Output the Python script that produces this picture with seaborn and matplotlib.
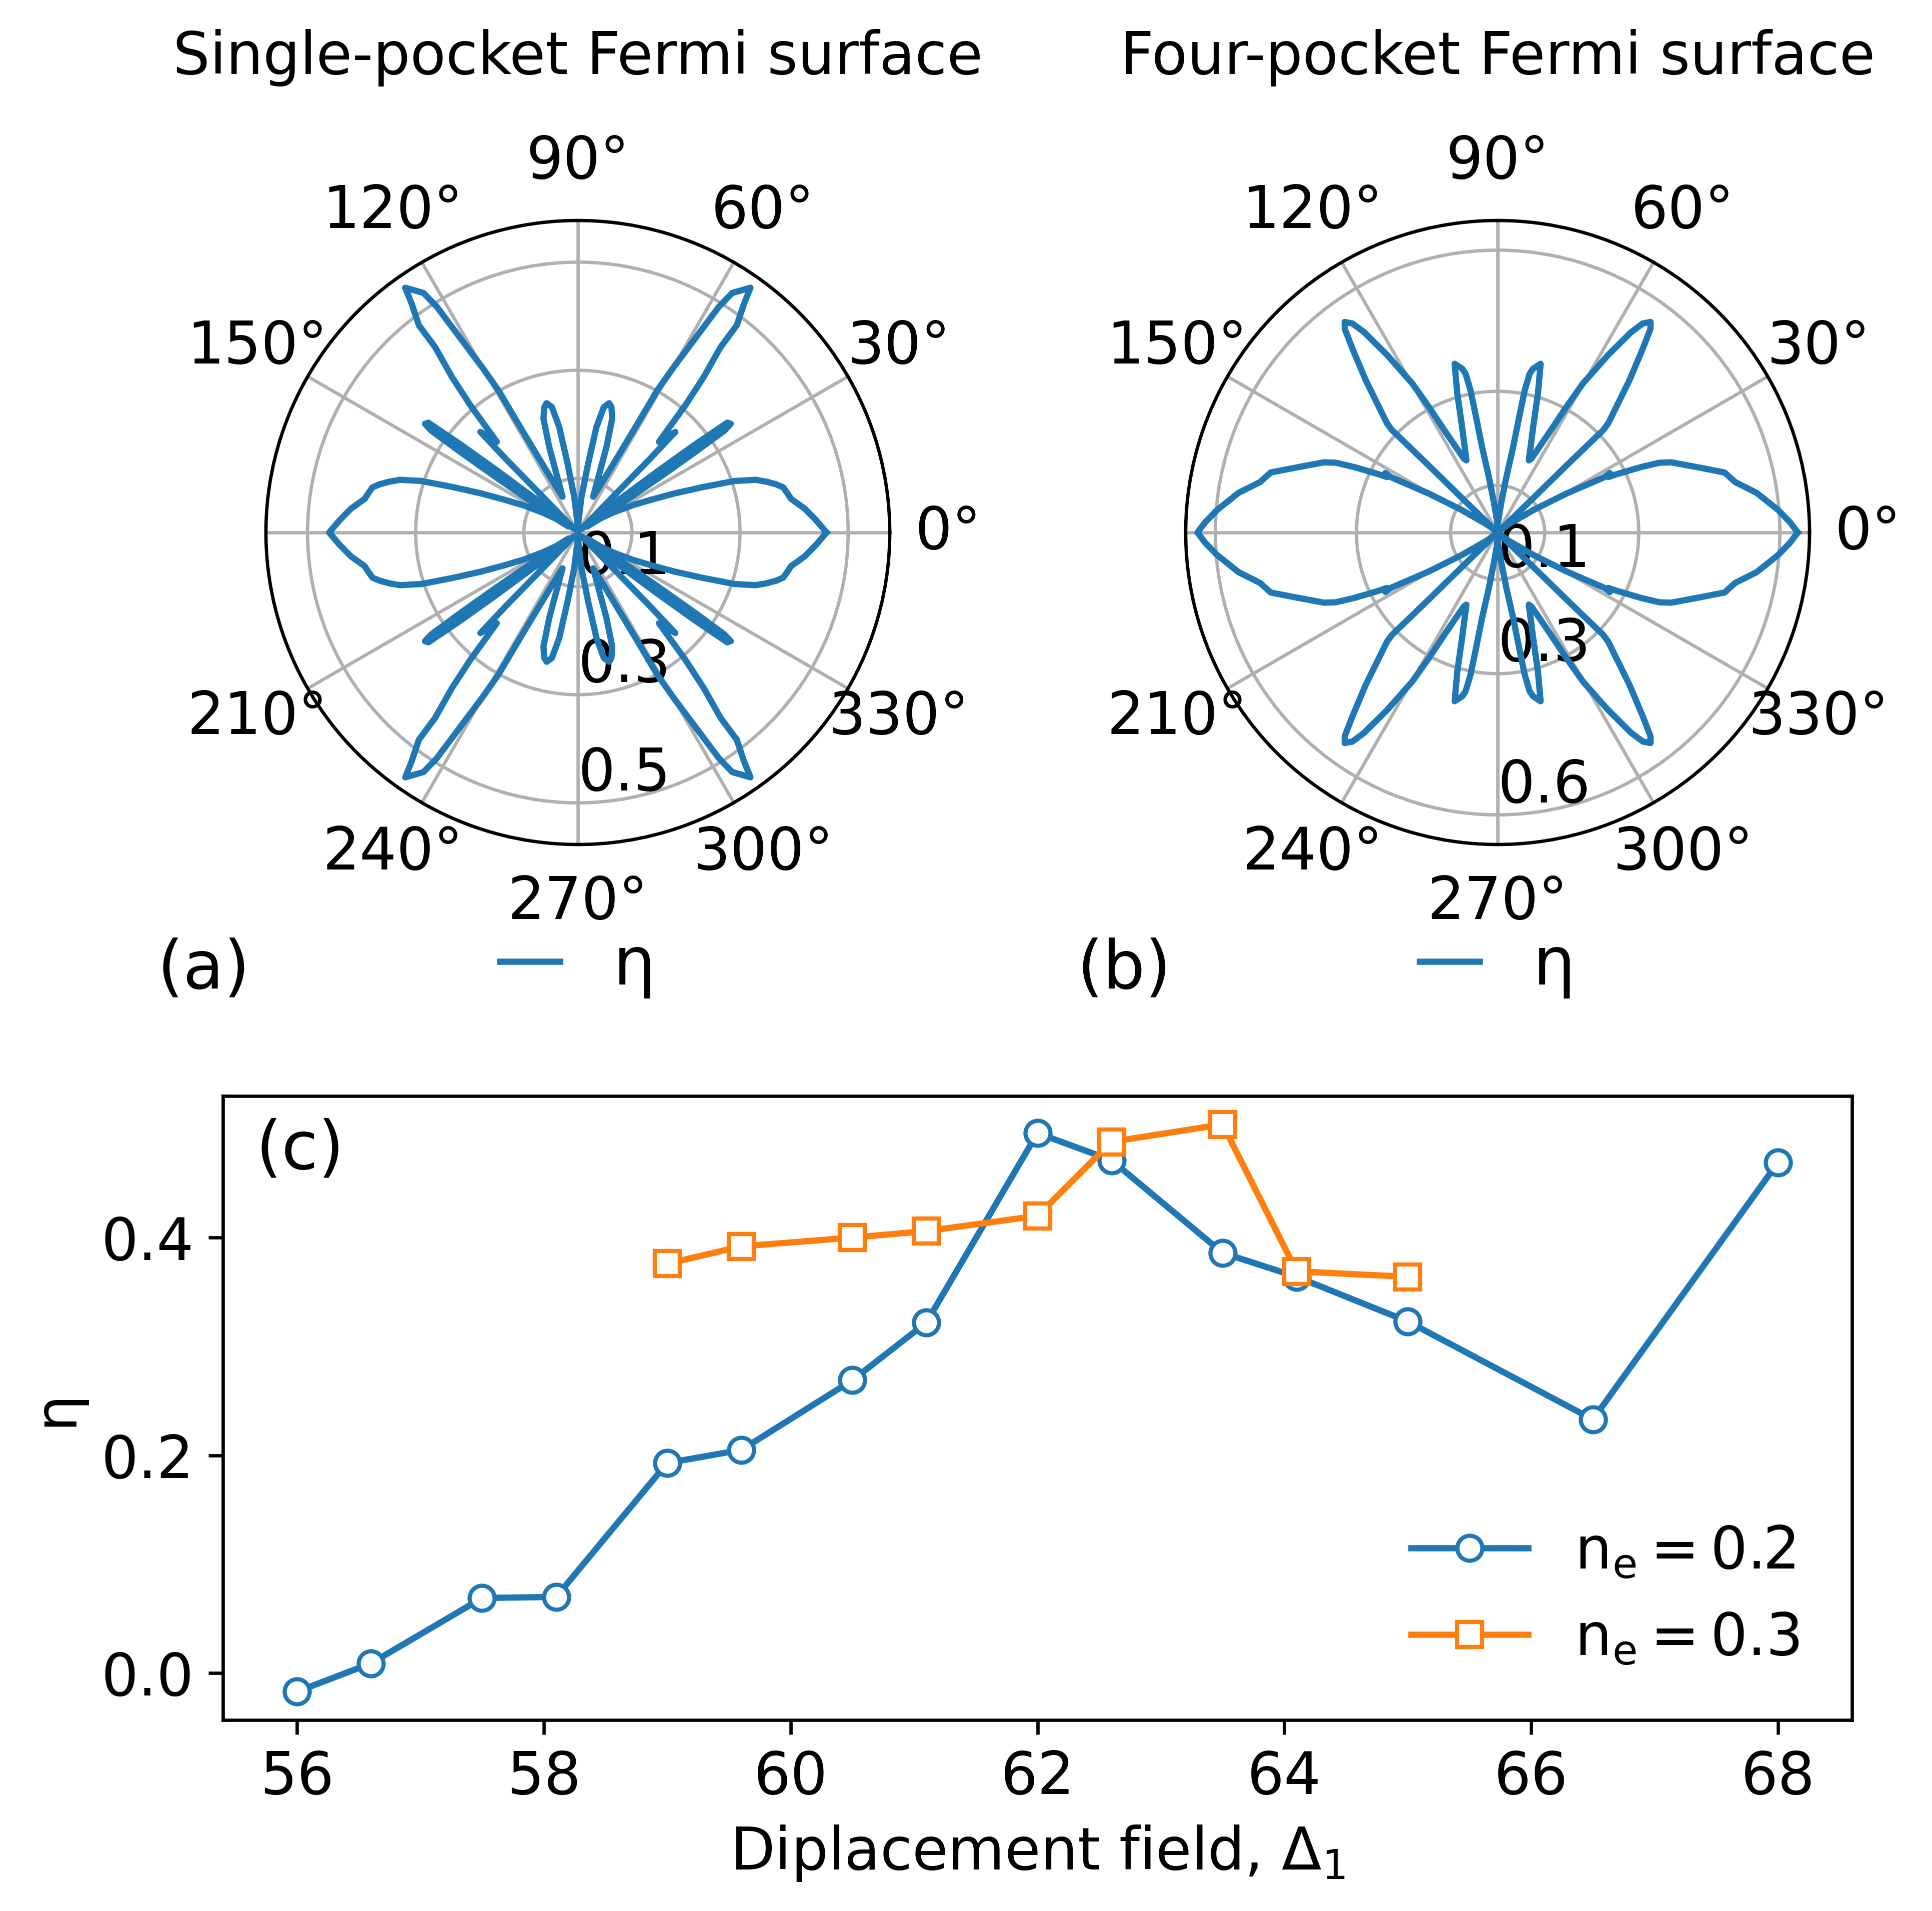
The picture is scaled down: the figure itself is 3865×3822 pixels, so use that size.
import numpy as np
import matplotlib
matplotlib.use("Agg")
import matplotlib.pyplot as plt
import seaborn as sns

plt.rcParams['font.family'] = ['DejaVu Sans']
plt.rcParams['font.size'] = 14

# ---------------- data ----------------
# (a) Single-pocket Fermi surface: traced first-quadrant path (deg, eta);
# the curve is mirror-symmetric about both axes.
a_theta_q1 = [0.0, 3.0, 6.0, 9.0, 10.4, 12.4, 13.7, 15.1, 16.5, 18.2, 20.0, 22.0,
              24.0, 26.4, 29.5, 32.0, 33.0, 33.6, 34.0, 34.4, 34.8, 35.4, 36.3,
              36.9, 37.5, 38.4, 40.5, 44.0, 45.5, 45.6, 45.9, 48.2, 49.8, 51.0,
              52.4, 52.5, 54.0, 54.8, 57.2, 58.0, 58.9, 59.9, 60.8, 61.3, 62.4,
              64.3, 66.8, 71.5, 73.2, 75.0, 76.4, 78.3, 80.0, 81.5, 84.2, 87.0, 90.0]
a_eta_q1 = [0.460, 0.441, 0.422, 0.399, 0.395, 0.389, 0.377, 0.361, 0.343, 0.305, 0.245, 0.193,
            0.150, 0.114, 0.075, 0.048, 0.020, 0.100, 0.180, 0.260, 0.330, 0.347, 0.343,
            0.270, 0.186, 0.100, 0.030, 0.010, 0.100, 0.188, 0.259, 0.225, 0.308, 0.370,
            0.433, 0.483, 0.523, 0.554, 0.527, 0.492, 0.415, 0.354, 0.301, 0.223, 0.151,
            0.100, 0.072, 0.167, 0.220, 0.240, 0.246, 0.237, 0.198, 0.129, 0.066, 0.020, 0.000]

# (b) Four-pocket Fermi surface: traced first-quadrant path (deg, eta)
b_theta_q1 = [0.0, 2.0, 4.6, 8.7, 12.0, 14.8, 17.8, 22.0, 23.3, 24.5, 26.1, 26.6,
              27.9, 27.4, 29.5, 32.2, 37.0, 42.0, 44.0, 44.2, 44.1, 44.6, 46.6,
              49.1, 51.7, 53.1, 54.0, 55.2, 56.3, 58.1, 60.2, 61.3, 62.6, 65.4,
              66.6, 71.4, 73.8, 75.7, 77.8, 78.6, 79.2, 79.4, 79.7, 81.0, 82.9, 86.0, 90.0]
b_eta_q1 = [0.638, 0.622, 0.598, 0.557, 0.516, 0.499, 0.451, 0.398, 0.375, 0.336, 0.281, 0.263,
            0.270, 0.255, 0.168, 0.089, 0.030, 0.005, 0.100, 0.204, 0.312, 0.330, 0.367,
            0.428, 0.498, 0.541, 0.553, 0.541, 0.512, 0.444, 0.365, 0.304, 0.241, 0.173,
            0.167, 0.237, 0.307, 0.370, 0.356, 0.344, 0.308, 0.257, 0.185, 0.120, 0.066, 0.030, 0.015]

# (c) eta vs displacement field
delta_ne02 = [56.0, 56.6, 57.5, 58.1, 59.0, 59.6, 60.5, 61.1, 62.0, 62.6, 63.5, 64.1, 65.0, 66.5, 68.0]
eta_ne02 = [-0.017, 0.009, 0.069, 0.070, 0.193, 0.205, 0.269, 0.322, 0.496, 0.471,
            0.386, 0.364, 0.323, 0.233, 0.469]
delta_ne03 = [59.0, 59.6, 60.5, 61.1, 62.0, 62.6, 63.5, 64.1, 65.0]
eta_ne03 = [0.376, 0.392, 0.400, 0.406, 0.420, 0.488, 0.504, 0.369, 0.364]

titles = ["Single-pocket Fermi surface", "Four-pocket Fermi surface"]
panel_labels = ["(a)", "(b)"]
a_rticks = [0.1, 0.3, 0.5]
b_rticks = [0.1, 0.3, 0.6]
theta_ticks = [0, 30, 60, 90, 120, 150, 180, 210, 240, 270, 300, 330]
theta_labels = ["0°", "30°", "60°", "90°", "120°", "150°", "", "210°", "240°",
                "270°", "300°", "330°"]

BLUE = "#1f77b4"
ORANGE = "#ff7f0e"


def full_curve(theta_q1, eta_q1):
    t = list(theta_q1)
    r = list(eta_q1)
    t2 = [180.0 - v for v in theta_q1[::-1]]
    r2 = list(eta_q1[::-1])
    t3 = [180.0 + v for v in theta_q1]
    r3 = list(eta_q1)
    t4 = [360.0 - v for v in theta_q1[::-1]]
    r4 = list(eta_q1[::-1])
    th = np.deg2rad(np.array(t + t2 + t3 + t4))
    rr = np.array(r + r2 + r3 + r4)
    return th, rr


W, H = 3865, 3822
fig = plt.figure(figsize=(W / 600, H / 600), dpi=600)

polar_specs = [
    (a_theta_q1, a_eta_q1, a_rticks, 0.577, 532, titles[0], panel_labels[0], 314),
    (b_theta_q1, b_eta_q1, b_rticks, 0.663, 2372, titles[1], panel_labels[1], 2155),
]
for th_q, r_q, rt, rmax, x0, title, plab, plx in polar_specs:
    ax = fig.add_axes([x0 / W, 1 - 1689 / H, 1248 / W, 1248 / H], projection='polar')
    th, rr = full_curve(th_q, r_q)
    sns.lineplot(x=th, y=rr, sort=False, estimator=None, ax=ax, color=BLUE,
                 linewidth=1.5, label='η')
    ax.set_xlabel('')
    ax.set_ylabel('')
    ax.set_thetagrids(theta_ticks, labels=theta_labels)
    ax.set_rticks(rt)
    ax.set_rlim(0, rmax)
    ax.set_rlabel_position(270)
    ax.legend(loc='center', bbox_to_anchor=(0.5, -0.195), frameon=False,
              fontsize=16, handlelength=0.9)
    fig.text((x0 + 624) / W, 1 - 148 / H, title, ha='center', va='baseline', fontsize=14)
    fig.text(plx / W, 1 - 1939 / H, plab, ha='left', va='center', fontsize=16)

axc = fig.add_axes([446 / W, 1 - 3440 / H, 3259 / W, 1248 / H])
sns.lineplot(x=delta_ne02, y=eta_ne02, ax=axc, color=BLUE, marker='o',
             markerfacecolor='white', markeredgecolor=BLUE, markeredgewidth=1.0,
             markersize=6, linewidth=1.5, label=r'$\mathrm{n_e = 0.2}$')
sns.lineplot(x=delta_ne03, y=eta_ne03, ax=axc, color=ORANGE, marker='s',
             markerfacecolor='white', markeredgecolor=ORANGE, markeredgewidth=1.0,
             markersize=6, linewidth=1.5, label=r'$\mathrm{n_e = 0.3}$')
axc.set_xticks([56, 58, 60, 62, 64, 66, 68])
axc.set_yticks([0.0, 0.2, 0.4])
axc.set_xlabel(r'Diplacement field, $\Delta_1$')
axc.set_ylabel('η')
axc.legend(loc='lower right', frameon=False)
axc.text(0.02, 0.965, '(c)', transform=axc.transAxes, fontsize=16, va='top', ha='left')

fig.savefig('out.png', dpi=600)
